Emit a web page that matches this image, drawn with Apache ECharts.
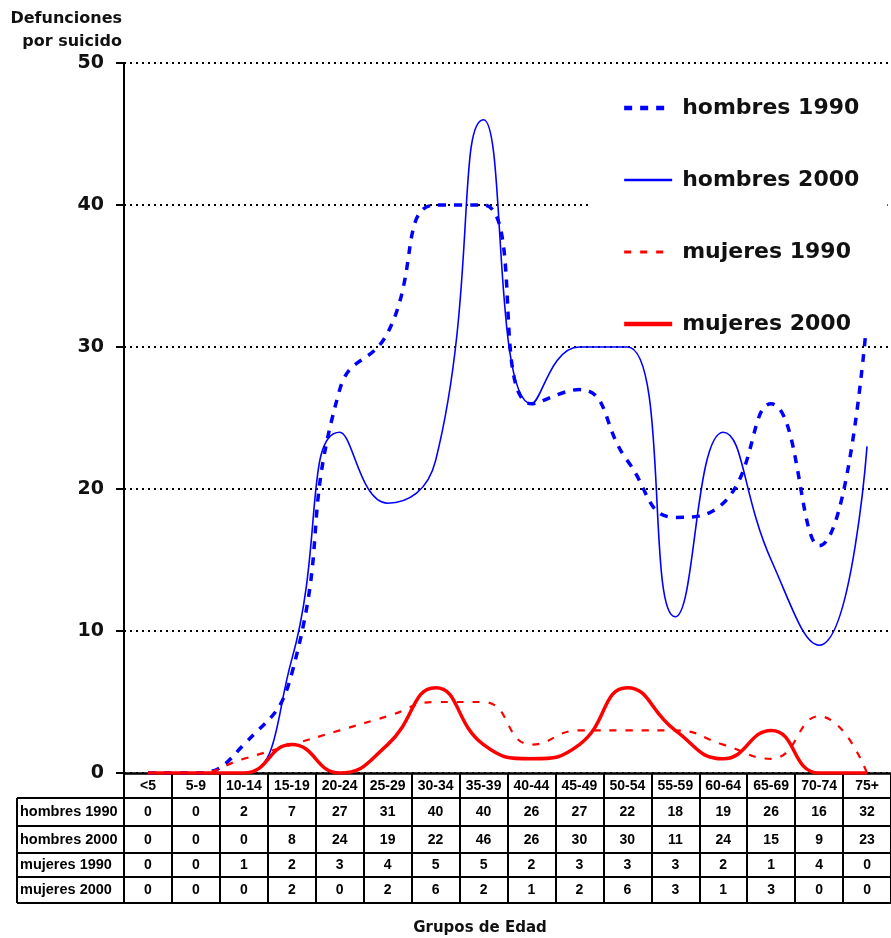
<!DOCTYPE html>
<html>
<head>
<meta charset="utf-8">
<script src="https://cdn.jsdelivr.net/npm/echarts@6/dist/echarts.min.js"></script>
<style>
  html, body { margin: 0; padding: 0; background: #fff; }
  #chart { width: 891px; height: 938px; }
</style>
</head>
<body>
<div id="chart"></div>
<script>
// grupos de edad
const ageGroups = ['<5', '5-9', '10-14', '15-19', '20-24', '25-29', '30-34', '35-39',
  '40-44', '45-49', '50-54', '55-59', '60-64', '65-69', '70-74', '75+'];
const seriesNames = ['hombres 1990', 'hombres 2000', 'mujeres 1990', 'mujeres 2000'];
const hombres1990 = [0, 0, 2, 7, 27, 31, 40, 40, 26, 27, 22, 18, 19, 26, 16, 32];
const hombres2000 = [0, 0, 0, 8, 24, 19, 22, 46, 26, 30, 30, 11, 24, 15, 9, 23];
const mujeres1990 = [0, 0, 1, 2, 3, 4, 5, 5, 2, 3, 3, 3, 2, 1, 4, 0];
const mujeres2000 = [0, 0, 0, 2, 0, 2, 6, 2, 1, 2, 6, 3, 1, 3, 0, 0];
const yMin = 0, yMax = 50, yStep = 10;

const rows = [hombres1990, hombres2000, mujeres1990, mujeres2000];

const chart = echarts.init(document.getElementById('chart'));

const gridLeft = 124, gridTop = 63, gridWidth = 777, gridHeight = 710;
const axisY = gridTop + gridHeight;        // 773
const rowLines = [25, 53, 80, 104, 130];   // desplazamiento de cada linea de la tabla
const tableFont = { fontFamily: 'Liberation Sans, Arial', fontWeight: 'bold', fontSize: 14, color: '#000' };

// estilos de linea de cada serie
const lineStyles = [
  { color: '#0000ff', width: 3.5, type: [8, 8] },
  { color: '#0000ff', width: 1.6 },
  { color: '#ff0000', width: 2.2, type: [7, 9] },
  { color: '#ff0000', width: 3.5 }
];

// ejes x: cabecera + filas de la tabla
const xAxes = [{
  type: 'category',
  data: ageGroups,
  position: 'bottom',
  offset: 0,
  axisLine: { lineStyle: { color: '#000', width: 2.5 } },
  axisTick: { show: true, interval: 0, length: rowLines[0], lineStyle: { color: '#000', width: 2 } },
  axisLabel: Object.assign({ interval: 0, margin: 6 }, tableFont),
  splitLine: { show: false }
}];
rows.forEach((row, i) => {
  xAxes.push({
    type: 'category',
    data: ageGroups,
    position: 'bottom',
    offset: rowLines[i],
    axisLine: { lineStyle: { color: '#000', width: 2 } },
    axisTick: { show: true, interval: 0, length: rowLines[i + 1] - rowLines[i], lineStyle: { color: '#000', width: 2 } },
    axisLabel: Object.assign({
      interval: 0,
      margin: Math.round((rowLines[i + 1] - rowLines[i]) / 2) - 7,
      formatter: (v, idx) => String(row[idx])
    }, tableFont),
    splitLine: { show: false }
  });
});
xAxes.push({
  type: 'category',
  data: ageGroups,
  position: 'bottom',
  offset: rowLines[4],
  axisLine: { lineStyle: { color: '#000', width: 2 } },
  axisTick: { show: false },
  axisLabel: { show: false }
});

// columna de nombres de la tabla
const graphics = [];
const colLeft = 17;
graphics.push({
  type: 'line',
  shape: { x1: colLeft, y1: axisY + rowLines[0], x2: colLeft, y2: axisY + rowLines[4] },
  style: { stroke: '#000', lineWidth: 2 }
});
rowLines.forEach(off => {
  graphics.push({
    type: 'line',
    shape: { x1: colLeft, y1: axisY + off, x2: gridLeft, y2: axisY + off },
    style: { stroke: '#000', lineWidth: 2 }
  });
});
seriesNames.forEach((name, i) => {
  graphics.push({
    type: 'text',
    x: colLeft + 3,
    y: axisY + (rowLines[i] + rowLines[i + 1]) / 2,
    style: {
      text: name,
      fill: '#000',
      font: 'bold 14.5px "Liberation Sans", Arial',
      textAlign: 'left',
      textVerticalAlign: 'middle'
    }
  });
});
graphics.push({
  type: 'text',
  x: 122, y: 7,
  style: {
    text: 'Defunciones\npor suicido',
    fill: '#111',
    font: 'bold 16px "DejaVu Sans", Verdana',
    textAlign: 'right',
    lineHeight: 23
  }
});
graphics.push({
  type: 'text',
  x: 480, y: 928,
  style: {
    text: 'Grupos de Edad',
    fill: '#111',
    font: 'bold 15px "DejaVu Sans", Verdana',
    textAlign: 'center',
    textVerticalAlign: 'middle'
  }
});

chart.setOption({
  backgroundColor: '#fff',
  animation: false,
  grid: { left: gridLeft, top: gridTop, width: gridWidth, height: gridHeight, containLabel: false },
  legend: {
    orient: 'vertical',
    left: 592,
    top: 87,
    padding: [10, 28, 2, 30],
    backgroundColor: '#fff',
    itemWidth: 48,
    itemHeight: 14,
    itemGap: 50,
    itemStyle: { opacity: 0 },
    data: seriesNames.map((name, i) => ({
      name: name,
      lineStyle: Object.assign({}, lineStyles[i], { width: lineStyles[i].width + 0.8 })
    })),
    textStyle: {
      fontFamily: 'DejaVu Sans, Verdana',
      fontWeight: 'bold',
      fontSize: 22,
      color: '#111',
      padding: [0, 0, 0, 5]
    }
  },
  xAxis: xAxes,
  yAxis: {
    type: 'value',
    min: yMin,
    max: yMax,
    interval: yStep,
    axisLine: { show: true, lineStyle: { color: '#000', width: 2 } },
    axisTick: { show: true, length: 8, lineStyle: { color: '#000', width: 2 } },
    axisLabel: {
      margin: 20,
      fontFamily: 'DejaVu Sans, Verdana',
      fontWeight: 'bold',
      fontSize: 19,
      color: '#111'
    },
    splitLine: { show: true, lineStyle: { color: '#000', type: [2, 4], width: 2 } }
  },
  series: [hombres1990, hombres2000, mujeres1990, mujeres2000].map((values, i) => ({
    name: seriesNames[i],
    type: 'line',
    data: values,
    smooth: 0.5,
    symbol: 'none',
    lineStyle: lineStyles[i],
    itemStyle: { color: lineStyles[i].color }
  })),
  graphic: graphics
});
</script>
</body>
</html>
